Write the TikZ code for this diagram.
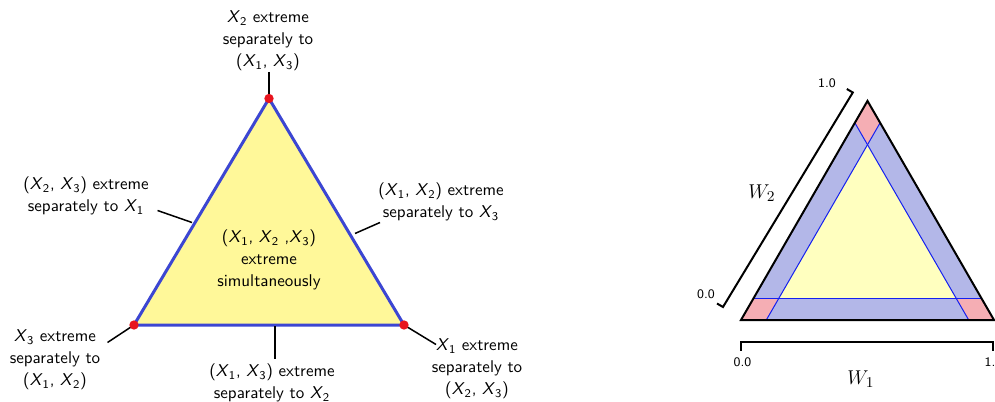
\documentclass[tikz,border=0pt]{standalone}
\usetikzlibrary{calc}
\definecolor{simyellow}{HTML}{FFF899}
\definecolor{edgeblue}{HTML}{3C46D2}
\definecolor{dotred}{HTML}{E8141E}
\definecolor{coreyellow}{HTML}{FFFFBF}
\definecolor{bandblue}{HTML}{B3B7E8}
\definecolor{cornerpink}{HTML}{F5AEB4}
\definecolor{cutblue}{HTML}{1420F0}
\newcommand{\xv}[1]{\textit{X}\textsubscript{#1}}

\begin{document}
\begin{tikzpicture}[x=0.6pt, y=-0.6pt,
    font=\sffamily\fontsize{10.2}{13.2}\selectfont,
    lbl/.style={align=center, inner sep=0pt},
    lead/.style={line width=0.9pt},
    vdot/.style={circle, fill=dotred, inner sep=0pt, minimum size=5.6pt},
    ticklbl/.style={font=\sffamily\fontsize{7.8}{9}\selectfont, inner sep=0pt},
    bracket/.style={line width=1.2pt},
    cut/.style={cutblue, line width=0.6pt},
    wlbl/.style={font=\fontsize{13}{15}\selectfont},
  ]
\useasboundingbox (0,0) rectangle (995,402);

% left: extremes of (X1,X2,X3)
\coordinate (v1) at (404,325);
\coordinate (v2) at (269,98.5);
\coordinate (v3) at (134,325);
\draw[edgeblue, line width=1.8pt, fill=simyellow] (v1) -- (v2) -- (v3) -- cycle;

\node[lbl] (all) at (269,260) {(\xv1, \xv2 ,\xv3)\\extreme\\simultaneously};
\node[lbl] (top) at (268,41) {\xv2 extreme\\separately to\\(\xv1, \xv3)};
\node[lbl] (e23) at (86,196) {(\xv2, \xv3) extreme\\separately to \xv1};
\node[lbl] (e12) at (441,202) {(\xv1, \xv2) extreme\\separately to \xv3};
\node[lbl] (bl) at (55,360) {\xv3 extreme\\separately to\\(\xv1, \xv2)};
\node[lbl] (e13) at (272,383) {(\xv1, \xv3) extreme\\separately to \xv2};
\node[lbl] (br) at (477,369) {\xv1 extreme\\separately to\\(\xv2, \xv3)};

% leader lines
\coordinate (a2) at (269,72);
\coordinate (a23) at (157.5,210.5);
\coordinate (b23) at (192,222.5);
\coordinate (a12) at (380,222.5);
\coordinate (b12) at (355,233.5);
\coordinate (a3) at (107.5,342.5);
\coordinate (a13) at (275,326);
\coordinate (b13) at (275,358.5);
\coordinate (a1) at (436,344.5);
\draw[lead] (a2) -- (v2);
\draw[lead] (a23) -- (b23);
\draw[lead] (a12) -- (b12);
\draw[lead] (a3) -- (v3);
\draw[lead] (a13) -- (b13);
\draw[lead] (a1) -- (v1);
\foreach \v in {v1,v2,v3}
  \node[vdot] at (\v) {};

% right: weight simplex
\coordinate (A) at (741,320);
\coordinate (B) at (994,320);
\coordinate (C) at (867.5,100.9);
\fill[bandblue] (A) -- (B) -- (C) -- cycle;
\fill[coreyellow] ($0.8*(A)+0.1*(B)+0.1*(C)$) -- ($0.1*(A)+0.8*(B)+0.1*(C)$)
  -- ($0.1*(A)+0.1*(B)+0.8*(C)$) -- cycle;
\fill[cornerpink] (A) -- ($(A)!0.1!(B)$) -- ($0.8*(A)+0.1*(B)+0.1*(C)$) -- ($(A)!0.1!(C)$) -- cycle;
\fill[cornerpink] (B) -- ($(B)!0.1!(C)$) -- ($0.1*(A)+0.8*(B)+0.1*(C)$) -- ($(B)!0.1!(A)$) -- cycle;
\fill[cornerpink] (C) -- ($(C)!0.1!(A)$) -- ($0.1*(A)+0.1*(B)+0.8*(C)$) -- ($(C)!0.1!(B)$) -- cycle;
\draw[cut] ($(A)!0.1!(C)$) -- ($(B)!0.1!(C)$);
\draw[cut] ($(A)!0.1!(B)$) -- ($(C)!0.1!(B)$);
\draw[cut] ($(B)!0.1!(A)$) -- ($(C)!0.1!(A)$);
\draw[line width=1.2pt, line join=miter] (A) -- (B) -- (C) -- cycle;

% axes
\coordinate (w1a) at (741,342);
\coordinate (w1b) at (993.3,342);
\draw[bracket] ($(w1a)+(0,8.5)$) -- (w1a) -- (w1b) -- ($(w1b)+(0,8.5)$);
\coordinate (w2a) at (723,307);
\coordinate (w2b) at (852.8,92.5);
\draw[bracket] ($(w2a)+(-6,-3.5)$) -- (w2a) -- (w2b) -- ($(w2b)+(-6,-3.5)$);

\node[ticklbl] (w1lo) at (742.5,362) {0.0};
\node[ticklbl] (w1hi) at (990,362) {1.};
\node[ticklbl] (w2lo) at (706,294) {0.0};
\node[ticklbl] (w2hi) at (827,83.5) {1.0};
\node[wlbl] (w1) at (861,379) {$W_1$};
\node[wlbl] (w2) at (762,193) {$W_2$};

\end{tikzpicture}
\end{document}
